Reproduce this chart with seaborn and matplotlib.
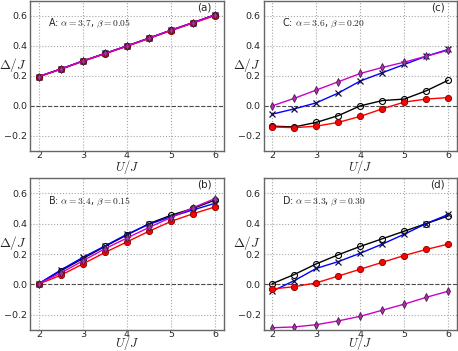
import numpy as np
import pandas as pd
import matplotlib
matplotlib.use("Agg")
import matplotlib.pyplot as plt
import seaborn as sns

U = [2.0, 2.5, 3.0, 3.5, 4.0, 4.5, 5.0, 5.5, 6.0]

# Panel A
a_black = [0.195, 0.245, 0.298, 0.348, 0.398, 0.450, 0.503, 0.553, 0.605]
a_blue = [0.195, 0.245, 0.298, 0.348, 0.398, 0.450, 0.503, 0.553, 0.605]
a_red = [0.193, 0.243, 0.296, 0.346, 0.396, 0.448, 0.500, 0.550, 0.600]
a_magenta = [0.195, 0.245, 0.298, 0.348, 0.398, 0.450, 0.503, 0.553, 0.605]

# Panel B
b_black = [0.005, 0.090, 0.170, 0.250, 0.325, 0.400, 0.455, 0.500, 0.555]
b_blue = [0.005, 0.095, 0.178, 0.253, 0.330, 0.395, 0.446, 0.490, 0.534]
b_red = [0.003, 0.060, 0.135, 0.210, 0.280, 0.350, 0.415, 0.465, 0.510]
b_magenta = [0.005, 0.075, 0.155, 0.235, 0.305, 0.375, 0.440, 0.505, 0.565]

# Panel C
c_black = [-0.135, -0.140, -0.110, -0.065, 0.000, 0.035, 0.045, 0.100, 0.170]
c_blue = [-0.055, -0.020, 0.020, 0.085, 0.165, 0.220, 0.275, 0.330, 0.375]
c_red = [-0.140, -0.145, -0.135, -0.110, -0.070, -0.020, 0.025, 0.045, 0.055]
c_magenta = [0.000, 0.050, 0.105, 0.160, 0.215, 0.255, 0.290, 0.330, 0.370]

# Panel D
d_black = [0.005, 0.065, 0.135, 0.195, 0.250, 0.300, 0.350, 0.400, 0.450]
d_blue = [-0.045, 0.025, 0.105, 0.150, 0.205, 0.265, 0.330, 0.400, 0.460]
d_red = [-0.030, -0.015, 0.010, 0.055, 0.100, 0.145, 0.190, 0.230, 0.265]
d_magenta = [-0.285, -0.280, -0.265, -0.240, -0.210, -0.170, -0.130, -0.085, -0.045]

panel_labels = ["(a)", "(b)", "(c)", "(d)"]
panel_texts = [r"A: $\alpha=3.7$, $\beta=0.05$",
               r"B: $\alpha=3.4$, $\beta=0.15$",
               r"C: $\alpha=3.6$, $\beta=0.20$",
               r"D: $\alpha=3.3$, $\beta=0.30$"]
xticks = [2, 3, 4, 5, 6]
yticks = [-0.2, 0.0, 0.2, 0.4, 0.6]
ytick_labels = ["\u22120.2", "0.0", "0.2", "0.4", "0.6"]

sns.set_style("whitegrid", {"grid.linestyle": ":", "grid.color": "0.65",
                            "axes.edgecolor": "0.35"})
plt.rcParams["font.family"] = ["DejaVu Sans"]
plt.rcParams["mathtext.fontset"] = "cm"

fig = plt.figure(figsize=(4.58, 3.51), dpi=100)
W, H = 458, 351
def rect(l, t, r, b):
    return [l / W, 1 - b / H, (r - l) / W, (b - t) / H]

axes = [fig.add_axes(rect(30, 0.5, 224, 151)),
        fig.add_axes(rect(30, 178, 224, 330)),
        fig.add_axes(rect(263.5, 0.5, 457, 151)),
        fig.add_axes(rect(263.5, 178, 457, 330))]
xlabel_y = [-0.108, -0.087, -0.108, -0.087]

data = [(a_black, a_blue, a_red, a_magenta),
        (b_black, b_blue, b_red, b_magenta),
        (c_black, c_blue, c_red, c_magenta),
        (d_black, d_blue, d_red, d_magenta)]

for i, ax in enumerate(axes):
    blk, blu, red, mag = data[i]
    ax.axhline(0, color="0.3", ls="--", lw=0.8, zorder=1)
    sns.lineplot(x=U, y=blk, ax=ax, color="k", lw=1.0, marker="o", ms=4.3,
                 markerfacecolor="none", markeredgecolor="k", mew=0.8)
    sns.lineplot(x=U, y=blu, ax=ax, color="#0000ff", lw=1.0, marker="x", ms=5,
                 markeredgecolor="#101040", mew=0.9)
    sns.lineplot(x=U, y=red, ax=ax, color="#ff0000", lw=1.0, marker="o", ms=4.5,
                 markerfacecolor="#ff0000", markeredgecolor="#800000", mew=0.6)
    sns.lineplot(x=U, y=mag, ax=ax, color="#cc00cc", lw=1.0, marker="d", ms=3.8,
                 markerfacecolor="#b030b0", markeredgecolor="#402040", mew=0.6)
    ax.set_xlim(1.8, 6.2)
    ax.set_ylim(-0.3, 0.7)
    ax.set_xticks(xticks)
    ax.set_yticks(yticks)
    ax.set_yticklabels(ytick_labels)
    ax.tick_params(labelsize=6.8, length=0, pad=2)
    ax.tick_params(axis="x", pad=0.3)
    for s in ax.spines.values():
        s.set_linewidth(1.0)
        s.set_color("0.4")
    ax.set_xlabel(r"$U/J$", fontsize=9, va="center")
    ax.xaxis.set_label_coords(0.5, xlabel_y[i])
    ax.set_ylabel(r"$\Delta/J$", fontsize=9.5, rotation=0, va="center", ha="center")
    ax.yaxis.set_label_coords(-0.088, 0.57)
    ax.text(2.21, 0.548, panel_texts[i], fontsize=6.9, va="center", ha="left")
    ax.text(5.76, 0.655, panel_labels[i], fontsize=7.5, va="center", ha="center")

fig.savefig("out.png", dpi=100)
